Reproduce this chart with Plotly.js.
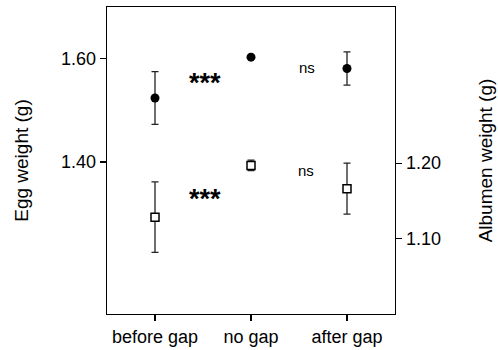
<!DOCTYPE html>
<html><head><meta charset="utf-8">
<script src="https://cdn.plot.ly/plotly-3.0.1.min.js"></script>
<style>html,body{margin:0;padding:0;background:#fff}</style>
</head><body>
<div id="chart" style="width:498px;height:350px"></div>
<script>
const categories = ["before gap", "no gap", "after gap"];
const eggMean = [1.524, 1.603, 1.581];
const eggErr = [0.051, 0.0, 0.032];
const albMean = [1.128, 1.197, 1.166];
const albErr = [0.047, 0.007, 0.034];
const leftTicks = [1.40, 1.60];
const leftTickText = ["1.40", "1.60"];
const rightTicks = [1.10, 1.20];
const rightTickText = ["1.10", "1.20"];
const sigLabels = ["***", "ns"];

const xIdx = categories.map((c, i) => i);
const font = {family: "Liberation Sans, Arial, sans-serif", color: "#000"};

const traces = [
  {
    x: xIdx, y: eggMean, type: "scatter", mode: "markers", yaxis: "y",
    marker: {symbol: "circle", size: 9, color: "#000"},
    error_y: {type: "data", array: eggErr, visible: true, color: "#222", thickness: 1.3, width: 3.5},
    showlegend: false, hoverinfo: "skip"
  },
  {
    x: xIdx, y: albMean, type: "scatter", mode: "markers", yaxis: "y2",
    marker: {symbol: "square", size: 8, color: "#fff", line: {color: "#000", width: 1.5}},
    error_y: {type: "data", array: albErr, visible: true, color: "#222", thickness: 1.3, width: 3.5},
    showlegend: false, hoverinfo: "skip"
  }
];

const layout = {
  width: 498, height: 350,
  margin: {l: 107, r: 103, t: 7, b: 36, pad: 0},
  paper_bgcolor: "#fff", plot_bgcolor: "#fff",
  font: Object.assign({size: 18}, font),
  xaxis: {
    range: [-0.5, 2.5], tickvals: xIdx, ticktext: categories,
    showgrid: false, zeroline: false, showline: true, linecolor: "#000", linewidth: 1.3,
    mirror: true, ticks: "outside", ticklen: 6, tickcolor: "#000", tickwidth: 1.2,
    tickfont: Object.assign({size: 18}, font), fixedrange: true
  },
  yaxis: {
    range: [1.106, 1.70], tickvals: leftTicks, ticktext: leftTickText,
    showgrid: false, zeroline: false, showline: true, linecolor: "#000", linewidth: 1.3,
    ticks: "outside", ticklen: 6, tickcolor: "#000", tickwidth: 1.2,
    tickfont: Object.assign({size: 18}, font),
    title: {text: "Egg weight (g)", font: Object.assign({size: 19}, font), standoff: 27},
    fixedrange: true
  },
  yaxis2: {
    range: [0.999, 1.408], tickvals: rightTicks, ticktext: rightTickText,
    overlaying: "y", side: "right",
    showgrid: false, zeroline: false, showline: true, linecolor: "#000", linewidth: 1.3,
    ticks: "outside", ticklen: 6, tickcolor: "#000", tickwidth: 1.2,
    tickfont: Object.assign({size: 18}, font),
    title: {text: "Albumen weight (g)", font: Object.assign({size: 19}, font), standoff: 38},
    fixedrange: true
  },
  annotations: [
    {x: 0.52, y: 1.563, xref: "x", yref: "y", text: sigLabels[0], showarrow: false,
     font: Object.assign({size: 27, weight: "bold"}, font), yshift: -5},
    {x: 0.52, y: 1.339, xref: "x", yref: "y", text: sigLabels[0], showarrow: false,
     font: Object.assign({size: 27, weight: "bold"}, font), yshift: -5},
    {x: 1.58, y: 1.582, xref: "x", yref: "y", text: sigLabels[1], showarrow: false,
     font: Object.assign({size: 15}, font)},
    {x: 1.57, y: 1.19, xref: "x", yref: "y2", text: sigLabels[1], showarrow: false,
     font: Object.assign({size: 15}, font)}
  ]
};

Plotly.newPlot("chart", traces, layout, {displayModeBar: false, staticPlot: true});
</script>
</body></html>
